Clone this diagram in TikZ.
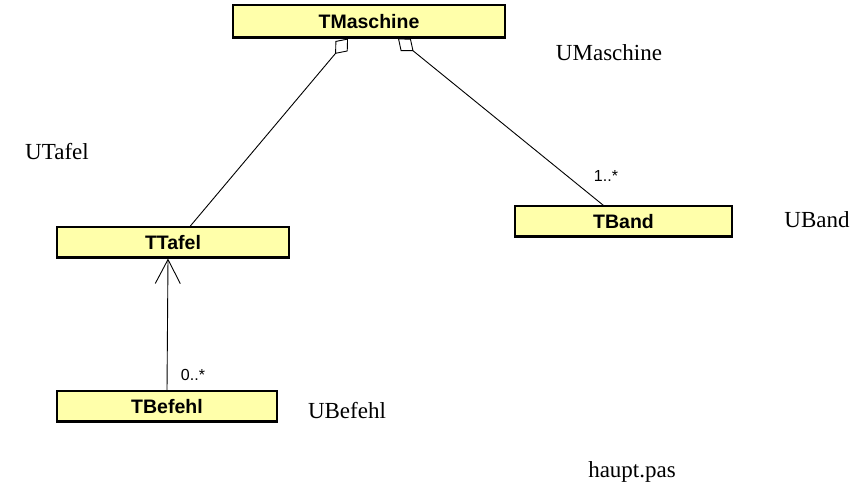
\documentclass[tikz,border=0pt]{standalone}
\usepackage{fontspec}
\setmainfont{Liberation Serif}
\newfontfamily\umlfont{Liberation Sans}
\usetikzlibrary{arrows.meta}
\definecolor{classfill}{RGB}{255,255,170}
\tikzset{
  classbox/.style={draw=black, line width=1.1pt, fill=classfill, inner sep=0pt,
    font=\umlfont\bfseries\fontsize{19.5}{19.5}\selectfont},
  unitlabel/.style={font=\fontsize{23}{23}\selectfont, inner sep=0pt},
  multlabel/.style={font=\umlfont\fontsize{16}{16}\selectfont, inner sep=0pt},
  assoc/.style={line width=0.9pt},
  shadowline/.style={line width=3pt, line cap=butt}
}
\begin{document}
\begin{tikzpicture}[x=1pt, y=-1pt]
\useasboundingbox (0,0) rectangle (865,482);
\clip (0,0) rectangle (865,482);

% classes
\node[classbox, minimum width=272pt, minimum height=33pt] (TMaschine) at (369,21.5) {TMaschine};
\node[classbox, minimum width=217pt, minimum height=31pt] (TBand) at (623.5,221.5) {TBand};
\node[classbox, minimum width=232pt, minimum height=31pt] (TTafel) at (173,242.5) {TTafel};
\node[classbox, minimum width=220pt, minimum height=31pt] (TBefehl) at (167,406.5) {TBefehl};

% heavier lower edges
\foreach \n in {TMaschine, TBand, TTafel, TBefehl}
  \draw[shadowline] ([yshift=1pt]\n.south west) -- ([yshift=1pt]\n.south east);

% aggregations from TMaschine
\draw[assoc, {Diamond[open, length=20pt, width=16pt, line width=0.9pt]}-]
  ([xshift=-21pt]TMaschine.south) -- ([xshift=17pt]TTafel.north);
\draw[assoc, {Diamond[open, length=20pt, width=16pt, line width=0.9pt]}-]
  ([xshift=29pt]TMaschine.south) -- ([xshift=-20pt]TBand.north);

% association TBefehl -> TTafel
\draw[assoc, -{Straight Barb[length=24pt, width=25pt, line width=0.9pt]}]
  ([xshift=0pt]TBefehl.north) -- ([xshift=-5pt]TTafel.south);

% multiplicities
\node[multlabel] (m1) at (606,176) {1..*};
\node[multlabel] (m0) at (193,375) {0..*};

% unit names
\node[unitlabel] (uMaschine) at (609,53) {UMaschine};
\node[unitlabel] (uTafel) at (57,152) {UTafel};
\node[unitlabel] (uBand) at (817,220) {UBand};
\node[unitlabel] (uBefehl) at (347,411) {UBefehl};
\node[unitlabel] (haupt) at (632,472) {haupt.pas};
\end{tikzpicture}
\end{document}
